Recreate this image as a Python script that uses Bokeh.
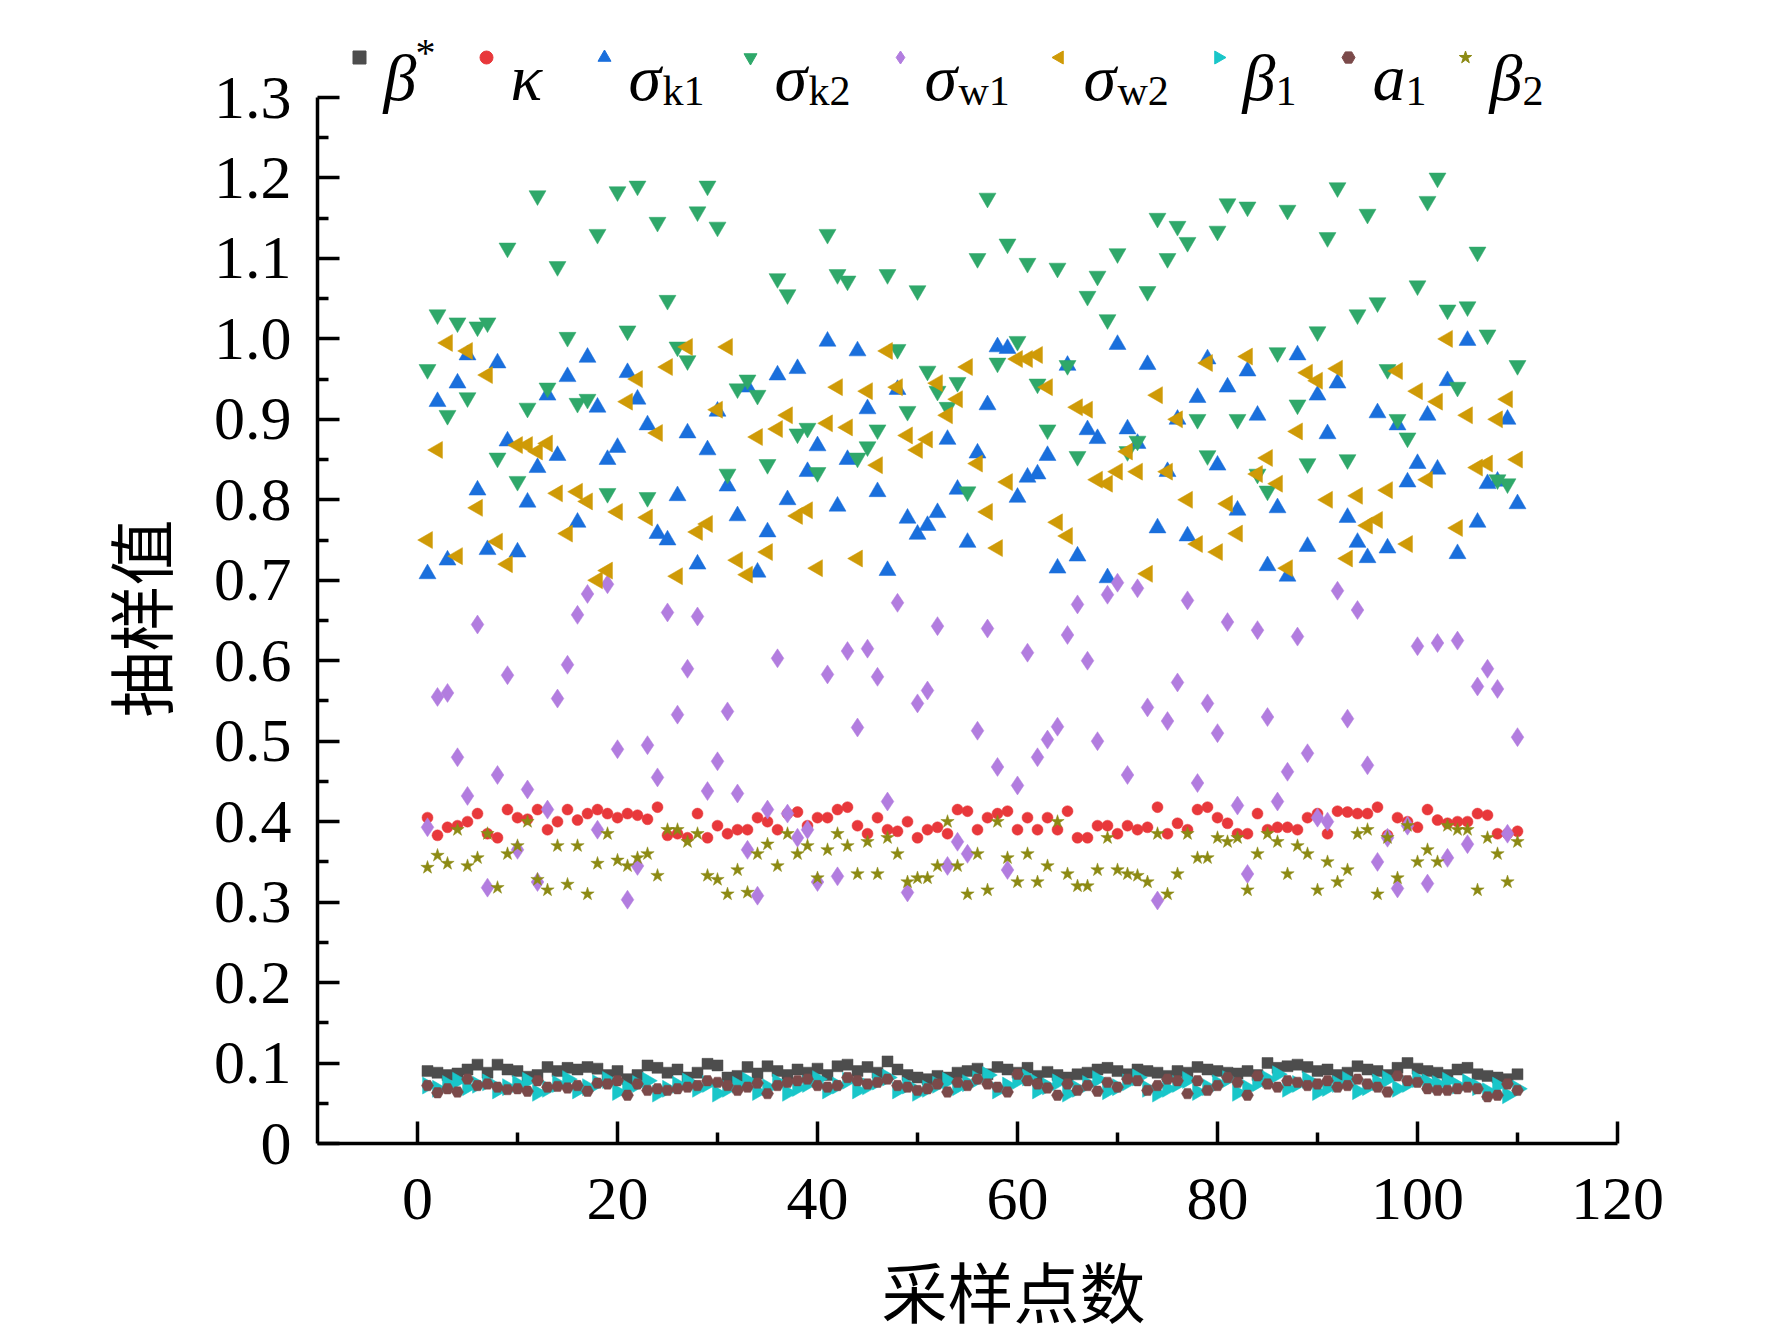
import numpy as np
from bokeh.plotting import figure
from bokeh.models import ColumnDataSource, FixedTicker, Label, Title
from bokeh.embed import file_html
from bokeh.resources import INLINE

# sampling point index
sample_idx = list(range(1, 111))

beta_star = [
    0.090, 0.088, 0.085, 0.087, 0.092, 0.098, 0.088, 0.098, 0.092, 0.090,
    0.083, 0.085, 0.095, 0.090, 0.094, 0.092, 0.095, 0.093, 0.085, 0.090,
    0.080, 0.085, 0.097, 0.094, 0.088, 0.092, 0.082, 0.088, 0.099, 0.097,
    0.082, 0.084, 0.095, 0.087, 0.096, 0.090, 0.085, 0.092, 0.088, 0.093,
    0.085, 0.096, 0.098, 0.090, 0.095, 0.088, 0.102, 0.092, 0.085, 0.082,
    0.080, 0.084, 0.082, 0.088, 0.090, 0.093, 0.086, 0.095, 0.092, 0.088,
    0.094, 0.084, 0.089, 0.085, 0.082, 0.086, 0.088, 0.092, 0.094, 0.090,
    0.086, 0.092, 0.090, 0.088, 0.084, 0.090, 0.088, 0.095, 0.092, 0.090,
    0.088, 0.087, 0.090, 0.085, 0.100, 0.094, 0.096, 0.098, 0.095, 0.090,
    0.092, 0.085, 0.088, 0.096, 0.092, 0.090, 0.085, 0.094, 0.100, 0.093,
    0.090, 0.088, 0.085, 0.092, 0.094, 0.086, 0.084, 0.082, 0.080, 0.086,
]

kappa = [
    0.405, 0.383, 0.393, 0.395, 0.400, 0.410, 0.385, 0.380, 0.415, 0.405,
    0.403, 0.415, 0.390, 0.400, 0.415, 0.402, 0.410, 0.415, 0.410, 0.405,
    0.410, 0.408, 0.403, 0.418, 0.383, 0.385, 0.380, 0.410, 0.380, 0.395,
    0.385, 0.390, 0.390, 0.405, 0.400, 0.390, 0.410, 0.412, 0.395, 0.405,
    0.405, 0.415, 0.418, 0.395, 0.385, 0.405, 0.390, 0.388, 0.400, 0.380,
    0.390, 0.393, 0.385, 0.415, 0.413, 0.390, 0.405, 0.410, 0.413, 0.390,
    0.405, 0.390, 0.405, 0.390, 0.413, 0.380, 0.380, 0.395, 0.395, 0.385,
    0.395, 0.390, 0.393, 0.418, 0.385, 0.398, 0.390, 0.415, 0.418, 0.405,
    0.398, 0.385, 0.385, 0.410, 0.390, 0.393, 0.393, 0.390, 0.405, 0.410,
    0.385, 0.413, 0.412, 0.410, 0.410, 0.418, 0.383, 0.405, 0.400, 0.393,
    0.415, 0.402, 0.398, 0.400, 0.400, 0.410, 0.408, 0.385, 0.385, 0.388,
]

sigma_k1 = [
    0.708, 0.922, 0.725, 0.945, 0.980, 0.812, 0.738, 0.970, 0.873, 0.735,
    0.797, 0.840, 0.930, 0.855, 0.953, 0.772, 0.977, 0.915, 0.850, 0.865,
    0.958, 0.925, 0.893, 0.758, 0.750, 0.805, 0.883, 0.720, 0.862, 0.910,
    0.817, 0.780, 0.940, 0.710, 0.760, 0.955, 0.800, 0.963, 0.835, 0.867,
    0.997, 0.792, 0.850, 0.985, 0.913, 0.810, 0.712, 0.937, 0.777, 0.757,
    0.768, 0.784, 0.875, 0.813, 0.747, 0.858, 0.918, 0.990, 0.988, 0.803,
    0.828, 0.832, 0.855, 0.715, 0.967, 0.730, 0.887, 0.876, 0.703, 0.993,
    0.888, 0.870, 0.968, 0.765, 0.835, 0.900, 0.755, 0.927, 0.975, 0.843,
    0.940, 0.787, 0.960, 0.905, 0.718, 0.790, 0.705, 0.980, 0.742, 0.930,
    0.882, 0.945, 0.778, 0.747, 0.728, 0.908, 0.740, 0.893, 0.822, 0.845,
    0.905, 0.838, 0.948, 0.733, 0.998, 0.772, 0.820, 0.823, 0.900, 0.795,
]

sigma_k2 = [
    0.962, 1.030, 0.905, 1.020, 0.927, 1.015, 1.020, 0.852, 1.113, 0.823,
    0.914, 1.178, 0.939, 1.090, 1.002, 0.920, 0.925, 1.130, 0.808, 1.183,
    1.010, 1.190, 0.803, 1.145, 1.048, 0.990, 0.973, 1.158, 1.190, 1.139,
    0.832, 0.938, 0.949, 0.930, 0.844, 1.075, 1.055, 0.882, 0.889, 0.834,
    1.130, 1.080, 1.072, 0.852, 0.866, 0.887, 1.080, 0.987, 0.910, 1.060,
    0.960, 0.935, 0.915, 0.946, 0.810, 1.100, 1.175, 0.970, 1.118, 0.997,
    1.094, 0.944, 0.887, 1.088, 0.967, 0.854, 1.053, 1.078, 1.024, 1.106,
    0.860, 0.873, 1.059, 1.150, 1.100, 1.140, 1.120, 0.900, 0.855, 1.134,
    1.168, 0.900, 1.164, 0.832, 0.811, 0.983, 1.160, 0.918, 0.845, 1.009,
    1.126, 1.188, 0.850, 1.030, 1.155, 1.045, 0.962, 0.900, 0.877, 1.066,
    1.171, 1.200, 1.036, 0.940, 1.040, 1.108, 1.005, 0.825, 0.820, 0.967,
]

sigma_w1 = [
    0.393, 0.555, 0.560, 0.480, 0.432, 0.645, 0.318, 0.458, 0.582, 0.365,
    0.440, 0.325, 0.415, 0.553, 0.595, 0.657, 0.683, 0.390, 0.695, 0.490,
    0.303, 0.345, 0.495, 0.455, 0.660, 0.533, 0.590, 0.655, 0.438, 0.475,
    0.537, 0.435, 0.365, 0.308, 0.415, 0.603, 0.410, 0.380, 0.390, 0.325,
    0.583, 0.332, 0.612, 0.517, 0.615, 0.580, 0.425, 0.672, 0.312, 0.547,
    0.563, 0.643, 0.345, 0.375, 0.360, 0.513, 0.640, 0.468, 0.340, 0.445,
    0.610, 0.480, 0.502, 0.518, 0.632, 0.670, 0.600, 0.500, 0.682, 0.697,
    0.458, 0.690, 0.542, 0.302, 0.525, 0.573, 0.675, 0.448, 0.547, 0.510,
    0.648, 0.420, 0.335, 0.638, 0.530, 0.425, 0.462, 0.630, 0.485, 0.405,
    0.400, 0.687, 0.528, 0.663, 0.470, 0.350, 0.380, 0.317, 0.395, 0.618,
    0.323, 0.622, 0.355, 0.625, 0.372, 0.568, 0.590, 0.565, 0.385, 0.505,
]

sigma_w2 = [
    0.750, 0.862, 0.995, 0.730, 0.985, 0.790, 0.955, 0.748, 0.720, 0.868,
    0.868, 0.860, 0.870, 0.808, 0.758, 0.810, 0.798, 0.700, 0.712, 0.785,
    0.922, 0.950, 0.778, 0.883, 0.965, 0.705, 0.990, 0.760, 0.770, 0.912,
    0.990, 0.725, 0.707, 0.878, 0.735, 0.888, 0.905, 0.780, 0.787, 0.715,
    0.895, 0.940, 0.890, 0.727, 0.935, 0.843, 0.985, 0.940, 0.880, 0.862,
    0.875, 0.945, 0.905, 0.925, 0.965, 0.845, 0.785, 0.740, 0.822, 0.975,
    0.975, 0.980, 0.940, 0.772, 0.755, 0.915, 0.912, 0.825, 0.820, 0.835,
    0.860, 0.835, 0.708, 0.930, 0.835, 0.900, 0.800, 0.745, 0.970, 0.735,
    0.795, 0.758, 0.978, 0.832, 0.852, 0.820, 0.715, 0.885, 0.958, 0.948,
    0.800, 0.963, 0.727, 0.805, 0.768, 0.775, 0.812, 0.960, 0.745, 0.935,
    0.825, 0.922, 1.000, 0.765, 0.905, 0.840, 0.845, 0.900, 0.925, 0.850,
]

beta_1 = [
    0.072, 0.068, 0.074, 0.078, 0.070, 0.073, 0.076, 0.066, 0.070, 0.074,
    0.078, 0.063, 0.068, 0.074, 0.080, 0.066, 0.070, 0.075, 0.079, 0.064,
    0.069, 0.074, 0.078, 0.062, 0.068, 0.073, 0.077, 0.068, 0.074, 0.062,
    0.068, 0.073, 0.078, 0.064, 0.070, 0.076, 0.063, 0.069, 0.074, 0.080,
    0.066, 0.072, 0.078, 0.066, 0.071, 0.077, 0.082, 0.066, 0.072, 0.063,
    0.068, 0.073, 0.078, 0.070, 0.075, 0.080, 0.085, 0.066, 0.072, 0.078,
    0.082, 0.066, 0.071, 0.076, 0.062, 0.068, 0.074, 0.080, 0.065, 0.070,
    0.076, 0.082, 0.068, 0.062, 0.068, 0.074, 0.079, 0.064, 0.070, 0.075,
    0.080, 0.063, 0.069, 0.075, 0.080, 0.086, 0.068, 0.074, 0.079, 0.064,
    0.069, 0.074, 0.079, 0.065, 0.070, 0.076, 0.080, 0.068, 0.074, 0.080,
    0.076, 0.074, 0.078, 0.072, 0.076, 0.070, 0.065, 0.072, 0.060, 0.068,
]

a_1 = [
    0.072, 0.063, 0.068, 0.064, 0.080, 0.072, 0.074, 0.070, 0.067, 0.068,
    0.065, 0.078, 0.070, 0.071, 0.069, 0.072, 0.065, 0.075, 0.074, 0.078,
    0.060, 0.074, 0.066, 0.068, 0.066, 0.068, 0.070, 0.072, 0.078, 0.076,
    0.072, 0.066, 0.070, 0.075, 0.062, 0.072, 0.076, 0.078, 0.080, 0.072,
    0.070, 0.072, 0.082, 0.078, 0.074, 0.076, 0.080, 0.072, 0.070, 0.066,
    0.068, 0.074, 0.064, 0.076, 0.072, 0.080, 0.074, 0.070, 0.064, 0.086,
    0.078, 0.074, 0.069, 0.060, 0.074, 0.066, 0.072, 0.065, 0.076, 0.070,
    0.080, 0.078, 0.066, 0.072, 0.080, 0.078, 0.062, 0.078, 0.066, 0.072,
    0.082, 0.076, 0.060, 0.084, 0.074, 0.070, 0.078, 0.076, 0.072, 0.074,
    0.078, 0.070, 0.072, 0.080, 0.074, 0.070, 0.064, 0.084, 0.078, 0.076,
    0.068, 0.066, 0.066, 0.068, 0.070, 0.068, 0.058, 0.060, 0.074, 0.066,
]

beta_2 = [
    0.343, 0.358, 0.348, 0.390, 0.345, 0.355, 0.385, 0.318, 0.360, 0.370,
    0.400, 0.328, 0.315, 0.370, 0.322, 0.370, 0.310, 0.348, 0.385, 0.352,
    0.345, 0.355, 0.360, 0.333, 0.390, 0.390, 0.375, 0.385, 0.333, 0.328,
    0.310, 0.340, 0.312, 0.360, 0.372, 0.345, 0.385, 0.360, 0.370, 0.330,
    0.365, 0.385, 0.370, 0.335, 0.375, 0.335, 0.380, 0.360, 0.325, 0.330,
    0.330, 0.345, 0.400, 0.345, 0.310, 0.360, 0.315, 0.400, 0.355, 0.325,
    0.360, 0.325, 0.345, 0.400, 0.335, 0.320, 0.320, 0.340, 0.380, 0.340,
    0.335, 0.333, 0.325, 0.385, 0.310, 0.335, 0.385, 0.355, 0.355, 0.380,
    0.375, 0.380, 0.315, 0.360, 0.385, 0.375, 0.335, 0.370, 0.360, 0.315,
    0.350, 0.325, 0.340, 0.385, 0.390, 0.310, 0.380, 0.330, 0.395, 0.350,
    0.365, 0.350, 0.395, 0.390, 0.390, 0.315, 0.380, 0.360, 0.325, 0.375,
]

# legend text: main symbol, small script, script kind
legend_main = ["β", "κ", "σ", "σ", "σ", "σ", "β", "a", "β"]
legend_script = ["*", "", "k1", "k2", "w1", "w2", "1", "1", "2"]
legend_kind = ["sup", "", "sub", "sub", "sub", "sub", "sub", "sub", "sub"]

x_title = "采样点数"
y_title = "抽样值"
x_ticks = [0, 20, 40, 60, 80, 100, 120]
x_minor = [10, 30, 50, 70, 90, 110]
y_ticks = [0, 0.1, 0.2, 0.3, 0.4, 0.5, 0.6, 0.7, 0.8, 0.9, 1.0, 1.1, 1.2, 1.3]
y_minor = [0.05, 0.15, 0.25, 0.35, 0.45, 0.55, 0.65, 0.75, 0.85, 0.95, 1.05, 1.15, 1.25]

series = [beta_star, kappa, sigma_k1, sigma_k2, sigma_w1, sigma_w2, beta_1, a_1, beta_2]
colors = ["#4d4d4d", "#e8383b", "#1a6fdc", "#2fa86a", "#b27ddf", "#cf9a07", "#19c6c9", "#7b4a4a", "#8c8a14"]
markers = ["square", "circle", "triangle", "inverted_triangle", "diamond", "triangle", "triangle", "hex", "star"]
angles = [0, 0, 0, 0, 0, np.pi / 2, -np.pi / 2, 0, 0]
sizes = [11, 11, 17, 17, 19, 17, 17, 12, 14]

Y_TOP = 1.3957
TITLE_FONT = "'Liberation Serif', 'Noto Sans CJK SC'"

p = figure(width=1748, height=1372, x_range=(-10, 120), y_range=(0, Y_TOP),
           output_backend="svg", toolbar_location=None, title=None,
           min_border_left=317, min_border_right=131, min_border_top=20, min_border_bottom=229)
p.outline_line_color = None
p.grid.visible = False

for ys, c, m, a, s in zip(series, colors, markers, angles, sizes):
    src = ColumnDataSource(data=dict(x=sample_idx, y=ys))
    p.scatter("x", "y", source=src, marker=m, angle=a, size=s,
              fill_color=c, line_color=c, line_width=0.5)

# axes
p.xaxis.ticker = FixedTicker(ticks=x_ticks, minor_ticks=x_minor)
p.yaxis.ticker = FixedTicker(ticks=y_ticks, minor_ticks=y_minor)
p.yaxis.major_label_overrides = {0: "0", 1: "1.0"}
p.xaxis.bounds = (-10, 120)
p.yaxis.bounds = (0, 1.3)
for ax in [p.xaxis[0], p.yaxis[0]]:
    ax.axis_line_width = 3.5
    ax.major_tick_line_width = 3.5
    ax.minor_tick_line_width = 3.5
    ax.major_tick_in = 22
    ax.major_tick_out = 0
    ax.minor_tick_in = 11
    ax.minor_tick_out = 0
    ax.major_label_text_font = "Liberation Serif"
    ax.major_label_text_font_size = "62px"
    ax.major_label_text_color = "black"
p.xaxis.major_label_standoff = 35
p.yaxis.major_label_standoff = 26

# axis titles, placed to sit centred on the drawn axis spans
p.add_layout(Title(text=x_title, align="left", offset=564, standoff=70,
                   text_font=TITLE_FONT, text_font_size="66px",
                   text_font_style="normal", text_color="black"), "below")
p.add_layout(Title(text=y_title, align="left", offset=426, standoff=60,
                   text_font=TITLE_FONT, text_font_size="66px",
                   text_font_style="normal", text_color="black"), "left")

# legend row along the top of the frame
legend_x = [-5.8, 6.9, 18.7, 33.3, 48.3, 64.2, 80.1, 93.1, 104.8]
main_w = [3.2, 2.9, 3.4, 3.4, 3.4, 3.4, 3.3, 3.3, 3.3]
leg_src = ColumnDataSource(data=dict(x=legend_x, y=[1.3497] * len(legend_x),
                                     marker=markers, angle=angles, color=colors))
p.scatter("x", "y", source=leg_src, marker="marker", angle="angle", size=13,
          fill_color="color", line_color="color")
for lx, main, scr, kind, w in zip(legend_x, legend_main, legend_script, legend_kind, main_w):
    tx = lx + 2.4
    p.add_layout(Label(x=tx, y=1.3249, text=main, text_font="Liberation Serif",
                       text_font_style="italic", text_font_size="66px",
                       text_baseline="alphabetic", text_color="black"))
    if kind == "sub":
        p.add_layout(Label(x=tx + w, y=1.3075, text=scr, text_font="Liberation Serif",
                           text_font_size="42px", text_baseline="alphabetic",
                           text_color="black"))
    elif kind == "sup":
        p.add_layout(Label(x=tx + w, y=1.3833, text=scr, text_font="Liberation Serif",
                           text_font_size="40px", text_baseline="top",
                           text_color="black"))

open("out.html", "w").write(file_html(p, INLINE))
